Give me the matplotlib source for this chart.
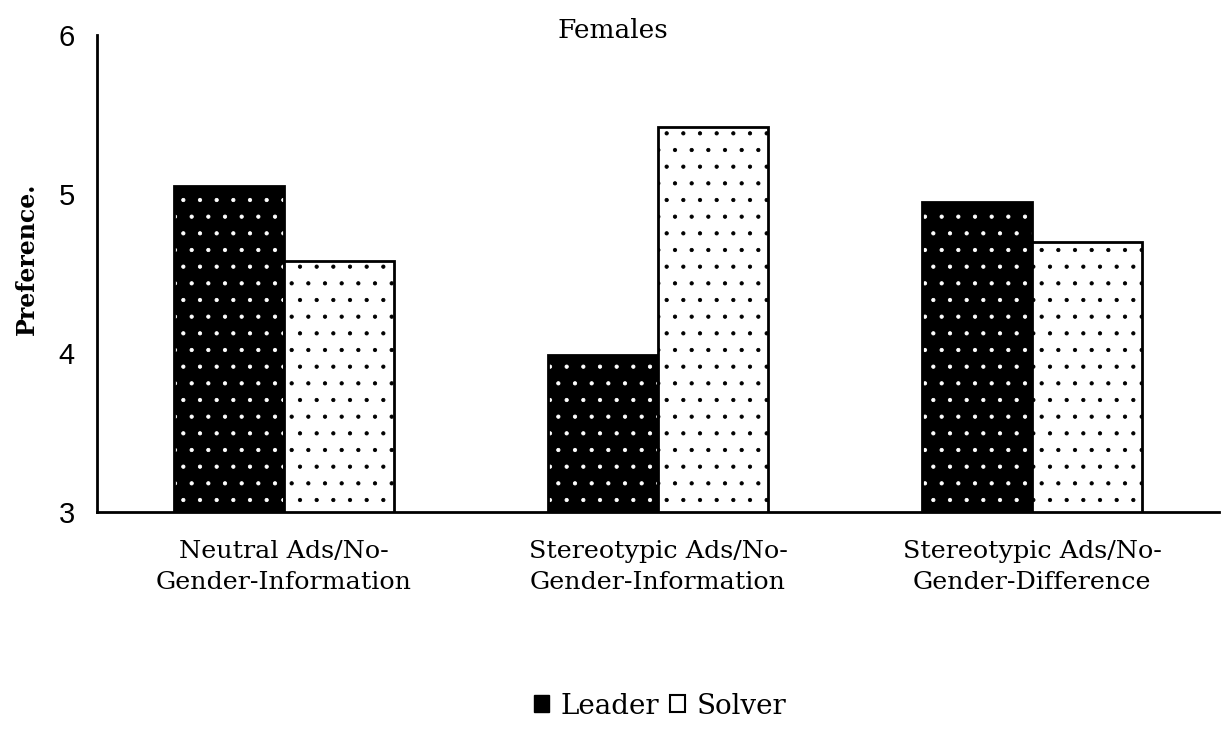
import matplotlib.pyplot as plt
import numpy as np
from matplotlib.patches import Patch

categories = ["Neutral Ads/No-\nGender-Information",
              "Stereotypic Ads/No-\nGender-Information",
              "Stereotypic Ads/No-\nGender-Difference"]
leader = [5.05, 3.99, 4.95]
solver = [4.58, 5.42, 4.70]
series_names = ["Leader", "Solver"]

plt.rcParams['font.family'] = ['DejaVu Serif']
plt.rcParams['hatch.linewidth'] = 0.6

fig = plt.figure(figsize=(12.26, 7.4), dpi=100)
ax = fig.add_axes([97 / 1226, 1 - 512 / 740, (1219 - 97) / 1226, (512 - 35) / 740])

x = np.arange(len(categories))
width = 0.295

# Leader: black bars with white dots
ax.bar(x - width / 2, leader, width, color="black", edgecolor="white",
       hatch=".", linewidth=0)
ax.bar(x - width / 2, leader, width, facecolor="none", edgecolor="black", linewidth=2)
# Solver: white bars with black dots
ax.bar(x + width / 2, solver, width, color="white", edgecolor="black",
       hatch=".", linewidth=2)

ax.set_ylim(3, 6)
ax.set_xlim(-0.5, 2.5)
ax.set_yticks([3, 4, 5, 6])
ax.set_xticks(x)
ax.set_xticklabels(categories, fontsize=18.3, linespacing=1.45)
for lab in ax.get_yticklabels():
    lab.set_fontfamily("Liberation Sans")
ax.tick_params(axis="y", length=0, labelsize=21, pad=16)
ax.tick_params(axis="x", length=0, pad=20)
for s in ["top", "right"]:
    ax.spines[s].set_visible(False)
ax.spines["left"].set_linewidth(2)
ax.spines["bottom"].set_linewidth(2)

fig.text(0.5, 1 - 30 / 740, "Females", fontsize=19, ha="center", va="center")
ax.set_ylabel("Preference.", fontsize=17, fontweight="bold")
ax.yaxis.set_label_coords(-0.052, 0.53)

handles = [Patch(facecolor="black", edgecolor="black"),
           Patch(facecolor="white", edgecolor="black", linewidth=1.5)]
fig.legend(handles, series_names, loc="center", bbox_to_anchor=(660 / 1226, 1 - 706 / 740),
           ncol=2, frameon=False, fontsize=20, handlelength=0.55, handleheight=0.55,
           handletextpad=0.4, columnspacing=0.4)

fig.savefig("out.png", dpi=100)
